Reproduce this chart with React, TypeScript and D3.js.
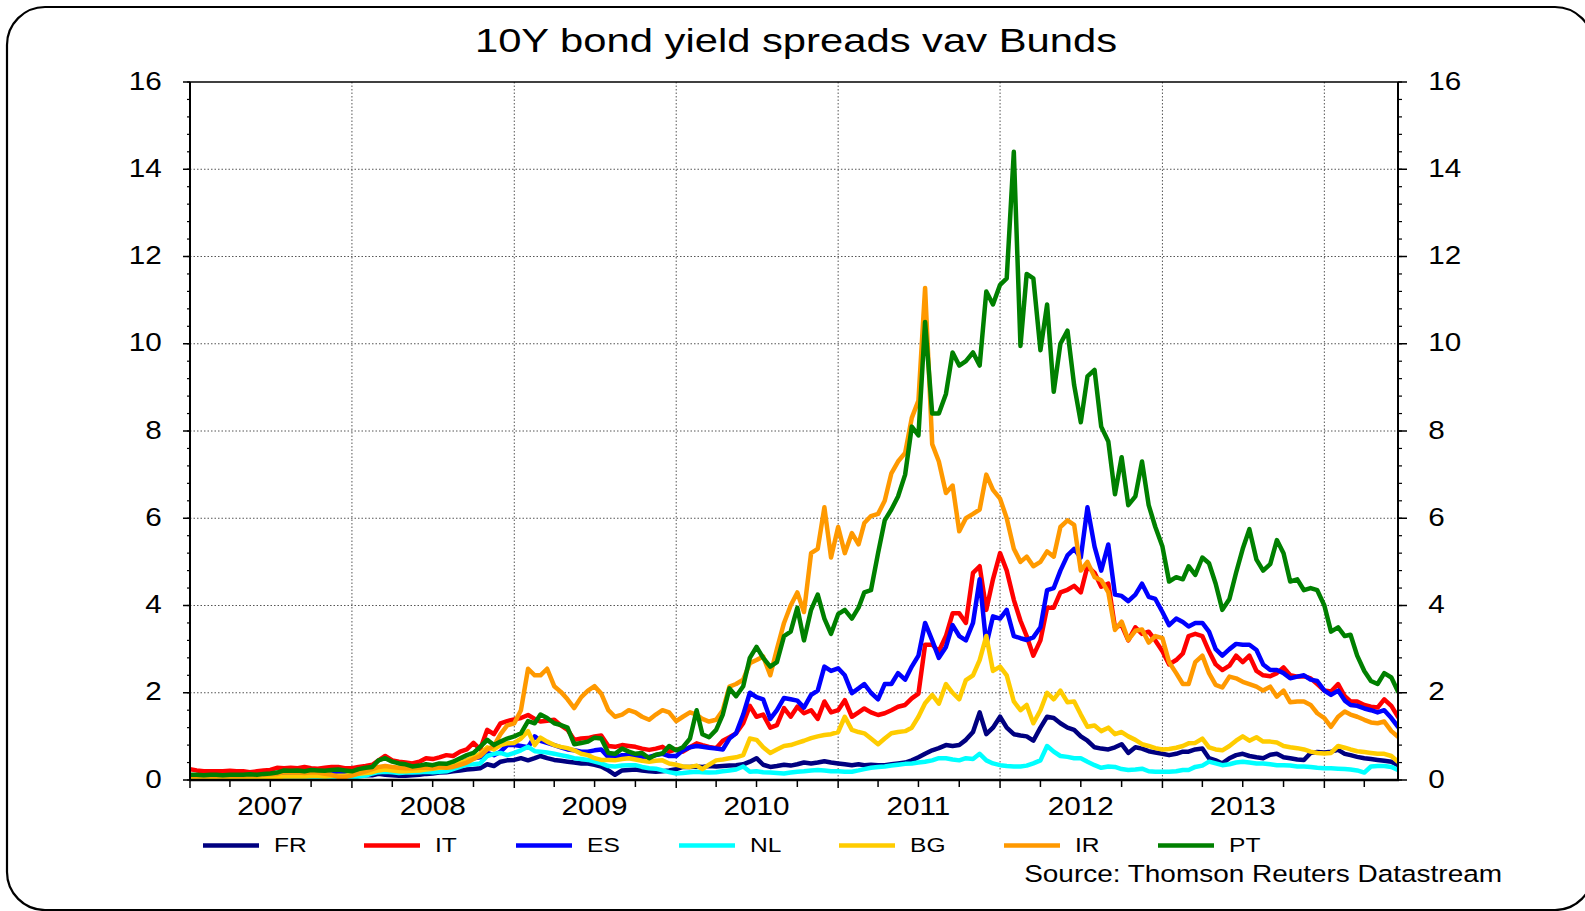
import React from "react";
import * as d3 from "d3";

// ---------- data (semi-monthly observations: 1st and 16th of each month, Jan 2007 – Jun 2014) ----------
const seriesNames = ["FR", "IT", "ES", "NL", "BG", "IR", "PT"];
const seriesColors = ["#000080", "#FF0000", "#0000FF", "#00FFFF", "#FFCC00", "#FF9900", "#008000"];

const FR = [
  0.04,0.04,0.03,0.04,0.04,0.04,0.04,0.05,0.05,0.05,0.05,0.05,0.06,0.06,0.07,0.08,0.08,0.08,0.08,0.09,0.1,0.1,0.1,0.1,
  0.1,0.1,0.11,0.11,0.14,0.12,0.11,0.1,0.1,0.11,0.12,0.14,0.15,0.17,0.18,0.2,0.22,0.24,0.25,0.27,0.36,0.32,0.42,0.45,
  0.46,0.5,0.45,0.5,0.55,0.5,0.46,0.44,0.42,0.4,0.38,0.38,0.35,0.31,0.22,0.12,0.22,0.23,0.24,0.22,0.2,0.19,0.2,0.22,
  0.25,0.3,0.3,0.31,0.3,0.32,0.31,0.32,0.33,0.34,0.36,0.42,0.5,0.35,0.3,0.32,0.35,0.33,0.36,0.4,0.38,0.4,0.43,0.4,
  0.38,0.36,0.34,0.36,0.34,0.35,0.34,0.34,0.36,0.38,0.4,0.45,0.52,0.6,0.68,0.73,0.8,0.78,0.8,0.92,1.1,1.55,1.05,1.2,
  1.45,1.2,1.05,1.02,1.0,0.9,1.2,1.45,1.42,1.3,1.2,1.15,1.0,0.9,0.75,0.72,0.7,0.75,0.82,0.62,0.75,0.72,0.66,0.63,
  0.6,0.57,0.6,0.65,0.65,0.7,0.72,0.5,0.45,0.38,0.5,0.57,0.6,0.55,0.52,0.5,0.58,0.6,0.52,0.5,0.47,0.46,0.62,0.64,
  0.63,0.65,0.69,0.6,0.57,0.53,0.5,0.48,0.46,0.44,0.42,0.34,
];
const IT = [
  0.25,0.22,0.2,0.2,0.2,0.2,0.21,0.2,0.2,0.18,0.2,0.22,0.23,0.28,0.27,0.28,0.27,0.3,0.27,0.26,0.28,0.3,0.3,0.27,
  0.27,0.3,0.32,0.35,0.45,0.55,0.45,0.42,0.4,0.38,0.42,0.5,0.48,0.52,0.57,0.55,0.65,0.7,0.85,0.7,1.15,1.05,1.3,1.35,
  1.39,1.42,1.49,1.4,1.34,1.36,1.38,1.25,1.15,0.92,0.95,0.96,1.0,1.02,0.78,0.76,0.8,0.78,0.76,0.72,0.69,0.72,0.76,0.65,
  0.7,0.65,0.75,0.84,0.8,0.76,0.73,0.9,0.98,1.07,1.3,1.7,1.45,1.5,1.2,1.26,1.65,1.45,1.68,1.53,1.6,1.4,1.8,1.55,
  1.6,1.83,1.45,1.55,1.64,1.55,1.49,1.53,1.6,1.68,1.72,1.87,1.98,3.1,3.1,2.95,3.3,3.82,3.82,3.6,4.75,4.9,3.9,4.6,
  5.2,4.8,4.13,3.65,3.3,2.85,3.2,3.95,3.95,4.3,4.36,4.45,4.3,4.9,4.75,4.43,4.5,3.5,3.55,3.2,3.5,3.35,3.4,3.2,
  2.95,2.65,2.75,2.9,3.3,3.35,3.3,2.95,2.65,2.52,2.62,2.85,2.7,2.85,2.5,2.4,2.38,2.45,2.58,2.4,2.37,2.38,2.33,2.2,
  2.05,2.03,2.2,1.92,1.8,1.8,1.72,1.68,1.66,1.85,1.7,1.45,
];
const ES = [
  0.03,0.03,0.03,0.04,0.04,0.04,0.04,0.04,0.05,0.05,0.05,0.05,0.06,0.08,0.1,0.1,0.1,0.12,0.1,0.12,0.12,0.15,0.15,0.15,
  0.15,0.18,0.2,0.22,0.28,0.27,0.25,0.23,0.22,0.22,0.24,0.28,0.28,0.3,0.32,0.35,0.42,0.45,0.5,0.52,0.62,0.57,0.65,0.8,
  0.8,0.78,0.75,1.0,0.9,0.85,0.8,0.75,0.7,0.68,0.65,0.65,0.68,0.7,0.52,0.52,0.57,0.57,0.55,0.53,0.53,0.57,0.6,0.55,
  0.55,0.68,0.75,0.78,0.76,0.74,0.72,0.7,0.95,1.07,1.5,2.0,1.9,1.85,1.4,1.6,1.88,1.85,1.82,1.66,1.95,2.05,2.6,2.5,
  2.56,2.4,1.99,2.1,2.2,2.0,1.85,2.2,2.2,2.45,2.3,2.6,2.85,3.6,3.2,2.8,3.05,3.55,3.3,3.2,3.6,4.6,3.1,3.75,
  3.7,3.9,3.3,3.25,3.21,3.27,3.5,4.35,4.4,4.8,5.15,5.3,5.1,6.25,5.35,4.8,5.4,4.25,4.22,4.1,4.25,4.5,4.2,4.15,
  3.85,3.55,3.7,3.62,3.52,3.6,3.6,3.4,3.0,2.85,3.0,3.12,3.1,3.1,2.98,2.65,2.52,2.52,2.45,2.33,2.37,2.4,2.3,2.27,
  2.05,1.95,2.05,1.82,1.72,1.7,1.64,1.6,1.55,1.6,1.42,1.22,
];
const NL = [
  0.02,0.02,0.02,0.02,0.02,0.02,0.02,0.02,0.03,0.03,0.03,0.03,0.03,0.03,0.04,0.04,0.04,0.04,0.04,0.04,0.04,0.05,0.03,0.03,
  0.05,0.08,0.1,0.15,0.18,0.19,0.18,0.16,0.17,0.17,0.18,0.19,0.18,0.19,0.2,0.25,0.3,0.35,0.36,0.38,0.55,0.6,0.62,0.57,
  0.62,0.68,0.76,0.66,0.65,0.63,0.6,0.57,0.54,0.5,0.48,0.46,0.42,0.38,0.32,0.31,0.33,0.34,0.34,0.3,0.27,0.26,0.22,0.18,
  0.15,0.16,0.18,0.19,0.18,0.17,0.18,0.2,0.22,0.24,0.31,0.19,0.2,0.18,0.17,0.16,0.15,0.17,0.19,0.2,0.22,0.23,0.22,0.2,
  0.2,0.19,0.19,0.22,0.25,0.28,0.3,0.31,0.33,0.35,0.37,0.38,0.4,0.42,0.45,0.5,0.5,0.47,0.45,0.5,0.48,0.6,0.45,0.38,
  0.34,0.32,0.31,0.31,0.33,0.38,0.45,0.78,0.65,0.55,0.53,0.5,0.5,0.42,0.34,0.28,0.31,0.3,0.25,0.23,0.24,0.26,0.2,0.19,
  0.19,0.19,0.2,0.23,0.23,0.3,0.33,0.42,0.38,0.34,0.36,0.4,0.42,0.4,0.38,0.38,0.36,0.34,0.34,0.33,0.31,0.31,0.3,0.28,
  0.27,0.27,0.26,0.25,0.24,0.22,0.17,0.31,0.32,0.32,0.3,0.23,
];
const BG = [
  0.04,0.04,0.04,0.04,0.04,0.04,0.05,0.05,0.05,0.05,0.05,0.05,0.06,0.06,0.08,0.08,0.08,0.08,0.09,0.09,0.08,0.09,0.1,0.1,
  0.12,0.14,0.16,0.18,0.22,0.24,0.22,0.2,0.2,0.21,0.22,0.24,0.26,0.28,0.3,0.33,0.4,0.45,0.52,0.6,0.75,0.7,0.8,0.84,
  0.85,0.95,1.12,0.8,0.97,0.88,0.8,0.76,0.73,0.68,0.6,0.57,0.5,0.46,0.46,0.45,0.48,0.5,0.47,0.44,0.42,0.44,0.45,0.38,
  0.35,0.31,0.3,0.33,0.25,0.35,0.45,0.47,0.5,0.52,0.57,0.95,0.92,0.75,0.62,0.7,0.78,0.8,0.85,0.9,0.96,1.0,1.03,1.05,
  1.1,1.45,1.15,1.1,1.07,0.95,0.82,0.95,1.07,1.1,1.12,1.2,1.45,1.76,1.95,1.75,2.2,2.0,1.85,2.29,2.4,2.75,3.3,2.5,
  2.6,2.4,1.8,1.6,1.72,1.3,1.6,2.0,1.85,2.05,1.78,1.8,1.5,1.22,1.25,1.12,1.2,1.05,1.1,1.0,0.92,0.82,0.78,0.73,
  0.7,0.71,0.74,0.78,0.84,0.85,0.95,0.75,0.7,0.68,0.78,0.9,1.0,0.9,0.98,0.88,0.88,0.86,0.78,0.75,0.73,0.7,0.65,0.62,
  0.61,0.62,0.78,0.74,0.7,0.66,0.64,0.62,0.6,0.6,0.55,0.42,
];
const IR = [
  0.1,0.1,0.09,0.1,0.1,0.09,0.1,0.1,0.1,0.11,0.1,0.12,0.13,0.14,0.18,0.17,0.18,0.16,0.18,0.17,0.14,0.12,0.07,0.07,
  0.1,0.15,0.2,0.25,0.3,0.32,0.3,0.28,0.27,0.27,0.28,0.28,0.27,0.3,0.28,0.3,0.35,0.4,0.48,0.55,0.7,0.78,1.05,1.25,
  1.3,1.6,2.55,2.4,2.4,2.55,2.15,2.02,1.85,1.65,1.9,2.05,2.15,1.98,1.6,1.45,1.5,1.6,1.55,1.45,1.38,1.5,1.6,1.55,
  1.35,1.45,1.55,1.5,1.4,1.34,1.38,1.6,2.14,2.2,2.3,2.68,2.75,2.83,2.4,3.0,3.6,4.0,4.3,3.85,5.2,5.3,6.25,5.1,
  5.8,5.2,5.66,5.4,5.89,6.05,6.1,6.4,7.03,7.3,7.5,8.3,8.7,11.28,7.7,7.3,6.58,6.75,5.7,6.0,6.1,6.2,7.0,6.65,
  6.45,6.0,5.3,5.0,5.12,4.9,5.0,5.24,5.12,5.8,5.95,5.85,4.8,5.0,4.65,4.58,4.3,3.44,3.63,3.21,3.42,3.45,3.15,3.3,
  3.25,2.7,2.45,2.2,2.2,2.7,2.85,2.45,2.18,2.12,2.37,2.33,2.25,2.2,2.14,2.05,2.14,1.91,2.05,1.78,1.8,1.8,1.72,1.53,
  1.42,1.22,1.45,1.57,1.5,1.45,1.38,1.32,1.3,1.34,1.12,0.99,
];
const PT = [
  0.12,0.12,0.11,0.12,0.12,0.11,0.12,0.12,0.12,0.13,0.12,0.14,0.15,0.17,0.22,0.21,0.22,0.2,0.23,0.22,0.21,0.23,0.24,0.22,
  0.2,0.25,0.28,0.3,0.45,0.5,0.42,0.38,0.36,0.31,0.33,0.36,0.34,0.38,0.37,0.42,0.5,0.57,0.62,0.76,0.92,0.8,0.88,0.95,
  1.0,1.07,1.35,1.3,1.5,1.42,1.3,1.26,1.2,0.82,0.85,0.88,0.97,0.95,0.62,0.6,0.72,0.65,0.6,0.62,0.5,0.58,0.61,0.78,
  0.68,0.75,0.95,1.6,1.05,0.98,1.15,1.5,2.1,1.92,2.15,2.8,3.05,2.8,2.6,2.7,3.3,3.4,3.95,3.2,3.9,4.25,3.7,3.35,
  3.8,3.9,3.7,3.95,4.3,4.35,5.2,5.95,6.2,6.5,7.0,8.1,7.9,10.5,8.4,8.4,8.85,9.8,9.5,9.6,9.8,9.5,11.2,10.9,
  11.35,11.5,14.4,9.95,11.6,11.5,9.85,10.9,8.9,10.0,10.3,9.05,8.2,9.25,9.4,8.1,7.76,6.55,7.4,6.3,6.5,7.3,6.3,5.8,
  5.35,4.55,4.65,4.6,4.9,4.7,5.1,4.97,4.5,3.9,4.15,4.75,5.3,5.75,5.05,4.8,4.95,5.5,5.2,4.55,4.6,4.35,4.4,4.35,
  4.0,3.4,3.5,3.3,3.33,2.85,2.5,2.27,2.2,2.45,2.35,2.03,
];
const seriesValues = [FR, IT, ES, NL, BG, IR, PT];

const yTicks = [0, 2, 4, 6, 8, 10, 12, 14, 16];
const yearLabels = [2007, 2008, 2009, 2010, 2011, 2012, 2013];

const dates: Date[] = d3
  .timeMonths(new Date(2007, 0, 1), new Date(2014, 6, 1))
  .flatMap((m) => [m, new Date(m.getFullYear(), m.getMonth(), 16)]);

// ---------- layout ----------
const W = 1585;
const H = 911;
const PL = 190, PR = 1398, PT_ = 82, PB = 780;
const FONT = "'Liberation Sans', Arial, Helvetica, sans-serif";
const legendX = [203, 364, 516, 679, 839, 1004, 1158];

function SText(props: { x: number; y: number; size: number; sx: number; anchor?: string; children: any }) {
  const { x, y, size, sx, anchor = "start", children } = props;
  return (
    <g transform={`translate(${x},${y}) scale(${sx},1)`}>
      <text x={0} y={0} fontSize={size} fontFamily={FONT} textAnchor={anchor} fill="#000">
        {children}
      </text>
    </g>
  );
}

export default function App() {
  const x = d3.scaleTime().domain([new Date(2007, 0, 1), new Date(2014, 5, 16)]).range([PL, PR]);
  const y = d3.scaleLinear().domain([0, 16]).range([PB, PT_]);

  const line = d3
    .line<number>()
    .x((_, i) => x(dates[i]))
    .y((d) => y(d));

  const quarterTicks = d3.timeMonths(new Date(2007, 0, 1), new Date(2014, 5, 17), 3);
  const yearStarts = d3.timeYears(new Date(2008, 0, 1), new Date(2014, 0, 2));
  const minorY = d3.range(0, 16.001, 0.4);

  return (
    <svg
      width={W}
      height={H}
      style={{ position: "absolute", left: 0, top: 0, background: "#fff" }}
      xmlns="http://www.w3.org/2000/svg"
    >
      <rect x={0} y={0} width={W} height={H} fill="#fff" />
      <rect x={7} y={7} width={1586} height={903} rx={38} ry={38} fill="#fff" stroke="#000" strokeWidth={2.2} />

      <SText x={796} y={51.5} size={32.5} sx={1.285} anchor="middle">
        10Y bond yield spreads vav Bunds
      </SText>

      <defs>
        <clipPath id="plotclip">
          <rect x={PL} y={PT_ - 2} width={PR - PL} height={PB - PT_ + 2} />
        </clipPath>
      </defs>

      {/* grid */}
      {yTicks
        .filter((t) => t > 0 && t < 16)
        .map((t) => (
          <line key={"gy" + t} x1={PL} x2={PR} y1={y(t)} y2={y(t)} stroke="#555" strokeWidth={1} strokeDasharray="1.5,2" />
        ))}
      {yearStarts.map((d) => (
        <line key={"gx" + d.getFullYear()} x1={x(d)} x2={x(d)} y1={PT_} y2={PB} stroke="#555" strokeWidth={1} strokeDasharray="1.5,2" />
      ))}

      {/* series */}
      <g clipPath="url(#plotclip)">
        {seriesValues.map((vals, i) => (
          <path
            key={seriesNames[i]}
            d={line(vals) || ""}
            fill="none"
            stroke={seriesColors[i]}
            strokeWidth={4.5}
            strokeLinejoin="round"
            strokeLinecap="round"
          />
        ))}
      </g>

      {/* frame */}
      <line x1={PL} x2={PR} y1={PT_} y2={PT_} stroke="#000" strokeWidth={1.5} />
      <line x1={PL} x2={PL} y1={PT_} y2={PB} stroke="#000" strokeWidth={2} />
      <line x1={PR} x2={PR} y1={PT_} y2={PB} stroke="#000" strokeWidth={2} />
      <line x1={PL - 1} x2={PR + 1} y1={PB} y2={PB} stroke="#000" strokeWidth={2.6} />

      {/* y ticks */}
      {minorY.map((t, i) => (
        <g key={"my" + i}>
          <line x1={PL - 3} x2={PL} y1={y(t)} y2={y(t)} stroke="#000" strokeWidth={1.2} />
          <line x1={PR} x2={PR + 4} y1={y(t)} y2={y(t)} stroke="#000" strokeWidth={1.2} />
        </g>
      ))}
      {yTicks.map((t) => (
        <g key={"ty" + t}>
          <line x1={PL - 7} x2={PL} y1={y(t)} y2={y(t)} stroke="#000" strokeWidth={1.5} />
          <line x1={PR} x2={PR + 9} y1={y(t)} y2={y(t)} stroke="#000" strokeWidth={1.5} />
          <SText x={161.7} y={y(t) + 7.7} size={26.5} sx={1.12} anchor="end">
            {t}
          </SText>
          <SText x={1428.3} y={y(t) + 7.7} size={26.5} sx={1.12} anchor="start">
            {t}
          </SText>
        </g>
      ))}

      {/* x ticks */}
      {quarterTicks.map((d, i) => (
        <line
          key={"qx" + i}
          x1={x(d)}
          x2={x(d)}
          y1={PB}
          y2={PB + (d.getMonth() === 0 ? 8 : 7)}
          stroke="#000"
          strokeWidth={1.5}
        />
      ))}
      {yearLabels.map((yr) => (
        <SText key={"yl" + yr} x={x(new Date(yr, 6, 1))} y={815} size={25.6} sx={1.16} anchor="middle">
          {yr}
        </SText>
      ))}

      {/* legend */}
      {seriesNames.map((n, i) => (
        <g key={"lg" + n}>
          <line x1={legendX[i]} x2={legendX[i] + 56} y1={845.5} y2={845.5} stroke={seriesColors[i]} strokeWidth={4.5} />
          <SText x={legendX[i] + 71} y={851.7} size={21} sx={1.17}>
            {n}
          </SText>
        </g>
      ))}

      <SText x={1502} y={881.7} size={23.3} sx={1.2} anchor="end">
        Source: Thomson Reuters Datastream
      </SText>
    </svg>
  );
}
